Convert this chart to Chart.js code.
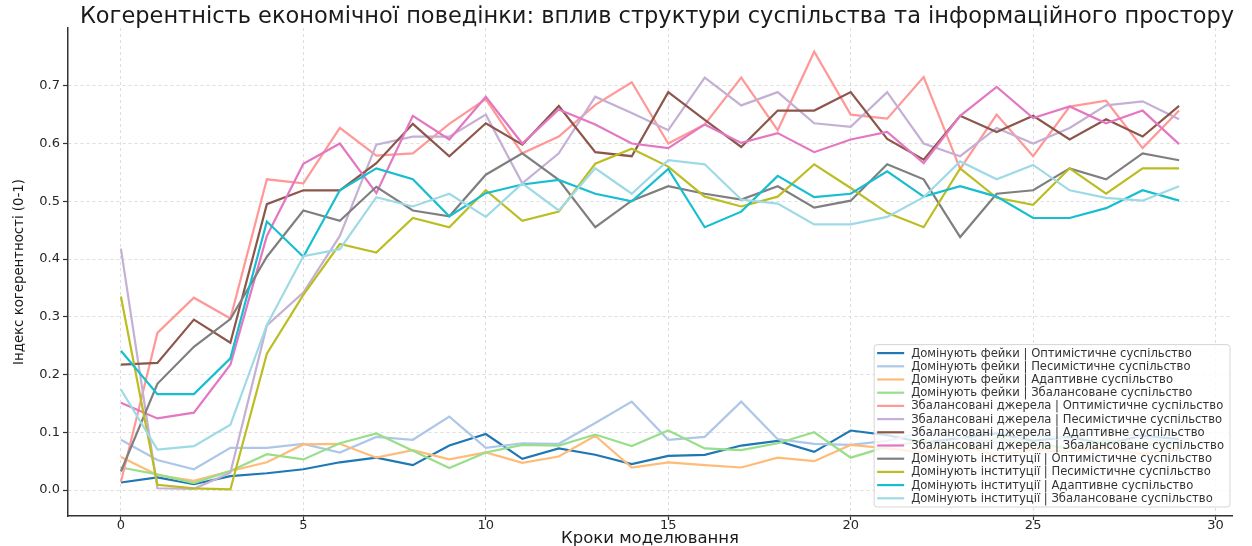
<!DOCTYPE html>
<html lang="uk">
<head>
<meta charset="utf-8">
<title>Когерентність економічної поведінки</title>
<script src="https://cdn.jsdelivr.net/npm/chart.js@4.4.1/dist/chart.umd.min.js"></script>
<style>
  html, body { margin: 0; padding: 0; background: #ffffff; }
  #wrap { width: 1252px; height: 546px; }
</style>
</head>
<body>
<div id="wrap"><canvas id="chart" width="1252" height="546"></canvas></div>
<script>
// Simulation steps (x axis)
const steps = [0,1,2,3,4,5,6,7,8,9,10,11,12,13,14,15,16,17,18,19,20,21,22,23,24,25,26,27,28,29];

// Tick labels
const xTicks = [0, 5, 10, 15, 20, 25, 30];
const yTicks = [0.0, 0.1, 0.2, 0.3, 0.4, 0.5, 0.6, 0.7];

// Coherence index per scenario: information space | society type
const fakesOptimistic   = [0.013,0.022,0.010,0.024,0.029,0.036,0.048,0.056,0.043,0.077,0.097,0.054,0.072,0.061,0.045,0.059,0.061,0.077,0.085,0.066,0.103,0.095,0.082,0.090,0.098,0.085,0.092,0.079,0.094,0.088];
const fakesPessimistic  = [0.087,0.052,0.036,0.073,0.073,0.080,0.065,0.092,0.087,0.127,0.073,0.081,0.080,0.116,0.153,0.087,0.092,0.153,0.088,0.080,0.078,0.085,0.100,0.090,0.082,0.095,0.088,0.105,0.090,0.083];
const fakesAdaptive     = [0.057,0.026,0.016,0.033,0.048,0.079,0.080,0.056,0.069,0.053,0.065,0.047,0.058,0.094,0.039,0.048,0.043,0.039,0.056,0.050,0.078,0.072,0.065,0.078,0.060,0.070,0.066,0.074,0.062,0.070];
const fakesBalanced     = [0.039,0.027,0.012,0.033,0.062,0.053,0.081,0.098,0.068,0.038,0.065,0.078,0.077,0.096,0.076,0.103,0.072,0.069,0.081,0.100,0.056,0.075,0.085,0.070,0.090,0.080,0.072,0.086,0.078,0.082];

const mixedOptimistic   = [0.014,0.272,0.333,0.297,0.538,0.531,0.627,0.579,0.583,0.634,0.677,0.583,0.612,0.667,0.706,0.600,0.633,0.714,0.623,0.759,0.650,0.643,0.715,0.556,0.650,0.578,0.664,0.674,0.592,0.657];
const mixedPessimistic  = [0.418,0.003,0.002,0.030,0.285,0.342,0.440,0.598,0.612,0.612,0.650,0.531,0.583,0.681,0.653,0.623,0.714,0.666,0.689,0.635,0.629,0.689,0.600,0.578,0.627,0.600,0.627,0.666,0.673,0.642];
const mixedAdaptive     = [0.217,0.220,0.295,0.255,0.495,0.519,0.519,0.566,0.634,0.578,0.635,0.598,0.665,0.585,0.578,0.689,0.641,0.594,0.657,0.657,0.689,0.608,0.572,0.648,0.620,0.648,0.607,0.642,0.612,0.665];
const mixedBalanced     = [0.151,0.124,0.134,0.217,0.440,0.565,0.600,0.514,0.648,0.607,0.681,0.600,0.659,0.633,0.600,0.592,0.633,0.601,0.618,0.585,0.607,0.620,0.566,0.648,0.698,0.644,0.664,0.635,0.657,0.599];

const instOptimistic    = [0.032,0.184,0.248,0.296,0.404,0.484,0.466,0.525,0.484,0.474,0.546,0.583,0.537,0.455,0.501,0.526,0.513,0.503,0.526,0.489,0.501,0.564,0.538,0.438,0.513,0.519,0.557,0.538,0.583,0.571];
const instPessimistic   = [0.335,0.009,0.003,0.001,0.236,0.338,0.426,0.411,0.471,0.455,0.519,0.466,0.482,0.565,0.591,0.560,0.508,0.491,0.508,0.564,0.523,0.480,0.455,0.557,0.506,0.494,0.557,0.513,0.557,0.557];
const instAdaptive      = [0.241,0.166,0.166,0.228,0.465,0.404,0.519,0.557,0.538,0.474,0.514,0.529,0.537,0.513,0.500,0.556,0.455,0.482,0.544,0.507,0.513,0.552,0.508,0.526,0.508,0.471,0.471,0.488,0.519,0.501];
const instBalanced      = [0.174,0.070,0.076,0.113,0.286,0.405,0.417,0.507,0.491,0.513,0.473,0.531,0.484,0.557,0.513,0.571,0.564,0.503,0.496,0.460,0.460,0.473,0.507,0.569,0.538,0.563,0.519,0.506,0.501,0.526];

const seriesLabels = [
  'Домінують фейки | Оптимістичне суспільство',
  'Домінують фейки | Песимістичне суспільство',
  'Домінують фейки | Адаптивне суспільство',
  'Домінують фейки | Збалансоване суспільство',
  'Збалансовані джерела | Оптимістичне суспільство',
  'Збалансовані джерела | Песимістичне суспільство',
  'Збалансовані джерела | Адаптивне суспільство',
  'Збалансовані джерела | Збалансоване суспільство',
  'Домінують інституції | Оптимістичне суспільство',
  'Домінують інституції | Песимістичне суспільство',
  'Домінують інституції | Адаптивне суспільство',
  'Домінують інституції | Збалансоване суспільство'
];
const seriesValues = [
  fakesOptimistic, fakesPessimistic, fakesAdaptive, fakesBalanced,
  mixedOptimistic, mixedPessimistic, mixedAdaptive, mixedBalanced,
  instOptimistic, instPessimistic, instAdaptive, instBalanced
];
const seriesColors = [
  '#1f77b4', '#aec7e8', '#ffbb78', '#98df8a',
  '#ff9896', '#c5b0d5', '#8c564b', '#e377c2',
  '#7f7f7f', '#bcbd22', '#17becf', '#9edae5'
];

const chartTitle = 'Когерентність економічної поведінки: вплив структури суспільства та інформаційного простору';
const xTitle = 'Кроки моделювання';
const yTitle = 'Індекс когерентності (0-1)';

const FONT = "'DejaVu Sans', 'Noto Sans', sans-serif";

const datasets = seriesValues.map((vals, i) => ({
  label: seriesLabels[i],
  data: steps.map((s, k) => ({ x: s, y: vals[k] })),
  borderColor: seriesColors[i],
  backgroundColor: seriesColors[i],
  borderWidth: 2.2,
  pointRadius: 0,
  tension: 0,
  fill: false,
  // later series are painted on top
  order: seriesValues.length - 1 - i
}));

// Title above the plot, and a framed legend in the lower right corner
const decorations = {
  id: 'decorations',
  afterDraw(chart) {
    const { ctx, chartArea } = chart;
    ctx.save();
    ctx.fillStyle = '#1a1a1a';
    ctx.font = `22.5px ${FONT}`;
    ctx.textAlign = 'center';
    ctx.textBaseline = 'middle';
    ctx.fillText(chartTitle, (chartArea.left + chartArea.right) / 2 + 7, 17);

    ctx.font = `11.6px ${FONT}`;
    const items = chart.data.datasets;
    let maxW = 0;
    items.forEach(d => { maxW = Math.max(maxW, ctx.measureText(d.label).width); });
    const rowH = 13.2;
    const w = 37 + maxW + 6;
    const h = rowH * items.length + 4;
    const bx = chartArea.right - 2 - w;
    const by = chartArea.bottom - 9 - h;
    ctx.beginPath();
    if (ctx.roundRect) ctx.roundRect(bx, by, w, h, 3); else ctx.rect(bx, by, w, h);
    ctx.fillStyle = 'rgba(255,255,255,0.8)';
    ctx.fill();
    ctx.strokeStyle = '#d6d6d6';
    ctx.lineWidth = 1;
    ctx.stroke();

    ctx.textAlign = 'left';
    items.forEach((d, i) => {
      const cy = by + 8.5 + i * rowH;
      ctx.beginPath();
      ctx.strokeStyle = d.borderColor;
      ctx.lineWidth = 2.2;
      ctx.moveTo(bx + 3, cy);
      ctx.lineTo(bx + 30, cy);
      ctx.stroke();
      ctx.fillStyle = '#333333';
      ctx.fillText(d.label, bx + 37, cy + 0.5);
    });
    ctx.restore();
  }
};

new Chart(document.getElementById('chart'), {
  type: 'line',
  data: { datasets },
  plugins: [decorations],
  options: {
    responsive: false,
    devicePixelRatio: 1,
    animation: false,
    layout: { padding: { left: 0, right: 20, top: 28, bottom: 0 } },
    plugins: {
      legend: { display: false },
      title: { display: false },
      tooltip: { enabled: false }
    },
    scales: {
      x: {
        type: 'linear',
        min: -1.45,
        max: 30.45,
        afterBuildTicks: s => { s.ticks = xTicks.map(v => ({ value: v })); },
        afterFit: s => { s.height = 30; },
        ticks: {
          color: '#262626',
          font: { family: FONT, size: 13 },
          padding: -2,
          maxRotation: 0,
          callback: v => String(v)
        },
        grid: {
          color: '#dedede',
          lineWidth: 1,
          tickLength: 4,
          tickColor: '#333333',
          tickWidth: 1.2
        },
        border: { display: true, color: '#333333', width: 1.5, dash: [3, 3] },
        title: {
          display: true,
          text: xTitle,
          color: '#1a1a1a',
          font: { family: FONT, size: 16.5 },
          padding: { top: 0, bottom: -3 }
        }
      },
      y: {
        type: 'linear',
        min: -0.045,
        max: 0.8,
        afterBuildTicks: s => { s.ticks = yTicks.map(v => ({ value: v })); },
        afterFit: s => { s.width = 68; },
        ticks: {
          color: '#262626',
          font: { family: FONT, size: 13 },
          padding: 3,
          callback: v => Number(v).toFixed(1)
        },
        grid: {
          color: '#dedede',
          lineWidth: 1,
          tickLength: 5,
          tickColor: '#333333',
          tickWidth: 1.2
        },
        border: { display: true, color: '#333333', width: 1.5, dash: [3, 3] },
        title: {
          display: true,
          text: yTitle,
          color: '#1a1a1a',
          font: { family: FONT, size: 13.3 },
          padding: { top: 12, bottom: 0 }
        }
      }
    }
  }
});
</script>
</body>
</html>
